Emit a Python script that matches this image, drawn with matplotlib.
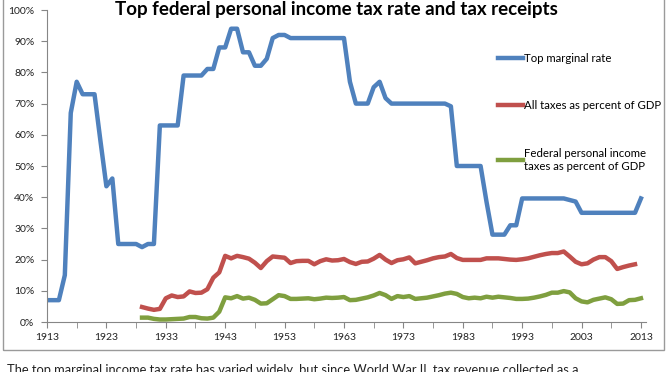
import numpy as np
import matplotlib
matplotlib.use("Agg")
import matplotlib.pyplot as plt
from matplotlib.patches import Rectangle

plt.rcParams['font.family'] = ['Lato', 'DejaVu Sans']

# 最高边际税率 1913-2013
years_rate = list(range(1913, 2014))
top_rate = [7, 7, 7, 15, 67, 77, 73, 73, 73, 58,
            43.5, 46, 25, 25, 25, 25, 24, 25, 25, 63,
            63, 63, 63, 79, 79, 79, 79, 81.1, 81.1, 88,
            88, 94, 94, 86.45, 86.45, 82.13, 82.13, 84.36, 91, 92,
            92, 91, 91, 91, 91, 91, 91, 91, 91, 91,
            91, 77, 70, 70, 70, 75.25, 77, 71.75, 70, 70,
            70, 70, 70, 70, 70, 70, 70, 70, 69.13, 50,
            50, 50, 50, 50, 38.5, 28, 28, 28, 31, 31,
            39.6, 39.6, 39.6, 39.6, 39.6, 39.6, 39.6, 39.6, 39.1, 38.6,
            35, 35, 35, 35, 35, 35, 35, 35, 35, 35,
            39.6]

# 全部税收占GDP 1929-2012
years_all = list(range(1929, 2013))
all_taxes = [4.8, 4.3, 3.9, 4.2, 7.6, 8.5, 8.0, 8.2, 9.8, 9.3,
             9.4, 10.5, 14.2, 15.9, 21.2, 20.4, 21.2, 20.8, 20.3, 19.0,
             17.3, 19.5, 21.0, 20.8, 20.6, 18.9, 19.5, 19.6, 19.6, 18.5,
             19.5, 20.1, 19.7, 19.8, 20.2, 19.2, 18.6, 19.3, 19.4, 20.3,
             21.5, 20.0, 18.9, 19.8, 20.1, 20.7, 18.8, 19.3, 19.8, 20.4,
             20.8, 21.0, 21.8, 20.5, 19.9, 19.9, 19.9, 19.9, 20.4, 20.4,
             20.4, 20.2, 20.0, 19.9, 20.1, 20.4, 20.9, 21.4, 21.8, 22.1,
             22.1, 22.6, 21.0, 19.3, 18.5, 18.8, 20.0, 20.8, 20.8, 19.5,
             17.0, 17.6, 18.1, 18.5]

# 联邦个人所得税占GDP 1929-2013
years_pit = list(range(1929, 2014))
pit = [1.4, 1.4, 1.0, 0.8, 0.8, 0.9, 1.0, 1.1, 1.6, 1.6,
       1.2, 1.1, 1.4, 3.3, 7.9, 7.6, 8.3, 7.5, 7.8, 7.1,
       5.9, 6.0, 7.3, 8.6, 8.3, 7.4, 7.4, 7.5, 7.6, 7.3,
       7.5, 7.8, 7.7, 7.8, 8.0, 7.0, 7.1, 7.5, 7.9, 8.5,
       9.3, 8.6, 7.4, 8.3, 8.0, 8.3, 7.4, 7.6, 7.8, 8.2,
       8.6, 9.1, 9.4, 9.0, 8.0, 7.6, 7.8, 7.6, 8.1, 7.8,
       8.1, 7.9, 7.7, 7.4, 7.4, 7.5, 7.8, 8.2, 8.7, 9.4,
       9.4, 9.9, 9.5, 7.6, 6.6, 6.3, 7.1, 7.5, 7.9, 7.3,
       5.8, 5.9, 7.0, 7.1, 7.6]

labels = ["Top marginal rate", "All taxes as percent of GDP",
          "Federal personal income\ntaxes as percent of GDP"]
colors = ["#4F81BD", "#C0504D", "#7F9F3F"]

fig = plt.figure(figsize=(6.72, 3.72), dpi=100)
ax = fig.add_axes([47/672, 1-322/372, (646-47)/672, (322-10)/372])

ax.plot(years_rate, top_rate, color=colors[0], lw=3.2, label=labels[0])
ax.plot(years_all, all_taxes, color=colors[1], lw=3.2, label=labels[1])
ax.plot(years_pit, pit, color=colors[2], lw=3.2, label=labels[2])

ax.set_xlim(1913, 2013.85)
ax.set_ylim(0, 100)
ax.set_xticks(range(1913, 2014, 10))
ax.set_xticks(range(1918, 2014, 10), minor=True)
ax.set_yticks(range(0, 101, 10))
ax.set_yticklabels([f"{v}%" for v in range(0, 101, 10)])
for s in ["top", "right"]:
    ax.spines[s].set_visible(False)
for s in ["left", "bottom"]:
    ax.spines[s].set_color("#868686")
ax.tick_params(which="both", direction="out", length=4, color="#868686",
               labelsize=7.5, labelcolor="#222222")
ax.tick_params(axis="y", pad=5)
ax.tick_params(axis="x", pad=4)

fig.text(0.5, 1-9/372, "Top federal personal income tax rate and tax receipts",
         ha="center", va="center", fontsize=13.5, fontweight="bold")

ax.legend(loc="upper left", bbox_to_anchor=(0.735, 0.895), frameon=False,
          fontsize=8.2, handlelength=2.2, handletextpad=0.15,
          labelspacing=3.2)

# 图表外框
fig.patches.append(Rectangle((3/672, 1-350/372), 661/672, 1.0,
                             transform=fig.transFigure, fill=False,
                             edgecolor="#9a9a9a", lw=1))

fig.text(7/672, 1-364/372,
         "The top marginal income tax rate has varied widely, but since World War II, tax revenue collected as a",
         ha="left", va="top", fontsize=9.3, color="#222222")

plt.savefig("out.png", dpi=100)
